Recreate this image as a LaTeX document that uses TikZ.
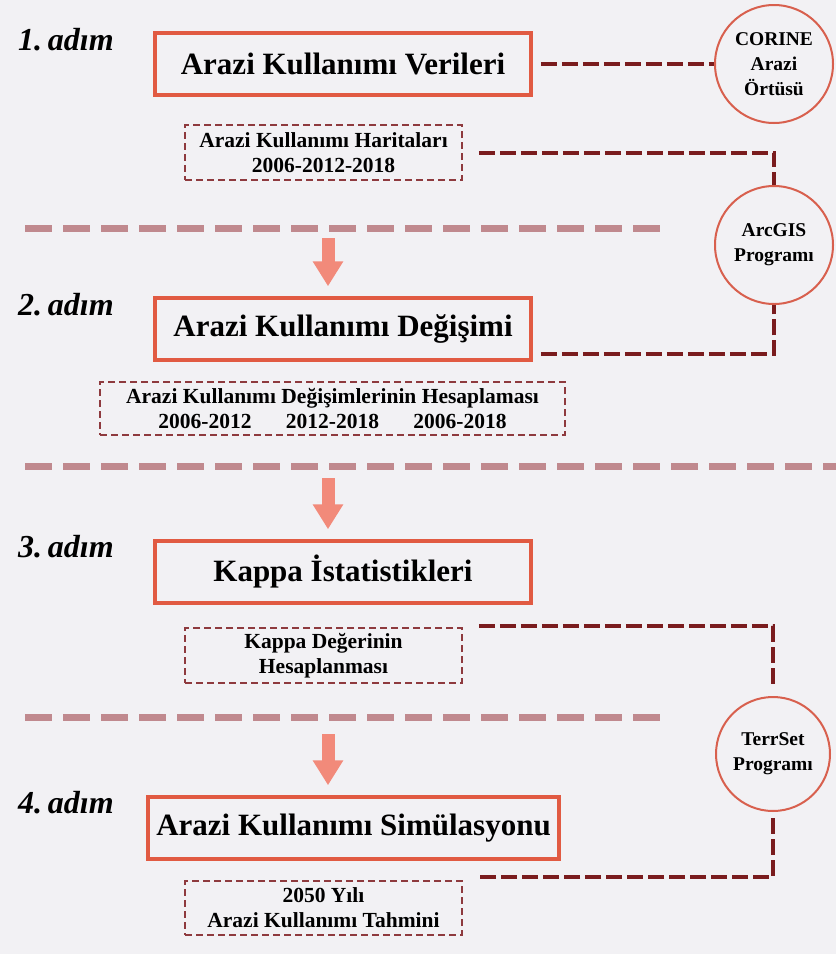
\documentclass[tikz,border=0pt]{standalone}
\usepackage{fontspec}
\setmainfont{Liberation Serif}
\usepackage{tikz}
\usetikzlibrary{positioning,calc,arrows.meta}
\definecolor{bgcol}{HTML}{F2F1F4}
\definecolor{boxred}{HTML}{E15A42}
\definecolor{ringred}{HTML}{D8604E}
\definecolor{linkred}{HTML}{7A1C1E}
\definecolor{subred}{HTML}{8E3A3E}
\definecolor{sepcol}{HTML}{C0898E}
\definecolor{arrowcol}{HTML}{F28A7A}
\tikzset{
  mainbox/.style={draw=boxred, line width=3.5pt, minimum width=376pt, minimum height=62pt, inner sep=0pt, font=\fontsize{31}{36}\selectfont\bfseries},
  subbox/.style={draw=subred, line width=1.8pt, dash pattern=on 7pt off 4pt, align=center, inner sep=0pt, font=\fontsize{21.5}{25}\selectfont\bfseries},
  progcircle/.style={circle, draw=ringred, line width=2pt, minimum size=118pt, align=center, inner sep=0pt, font=\fontsize{19.5}{25}\selectfont\bfseries},
  steplabel/.style={anchor=base west, inner sep=0pt, font=\fontsize{32}{36}\selectfont\bfseries\itshape},
  linkline/.style={draw=linkred, line width=4pt, dash pattern=on 16pt off 5pt},
  sepline/.style={draw=sepcol, line width=7pt, dash pattern=on 27pt off 11pt},
  steparrow/.style={draw=arrowcol, line width=13pt, -{Triangle[width=29pt,length=25pt]}},
}
\begin{document}
\begin{tikzpicture}[x=1pt,y=-1pt]
	% Background and page size
	\fill[bgcol] (0,0) rectangle (836,954);
	\useasboundingbox (0,0) rectangle (836,954);

	% Step 1
	\node[steplabel] (s1) at (18,50) {1.\hspace{0.18em}adım};
	\node[mainbox] (box1) at (343,64) {Arazi Kullanımı Verileri};
	\node[subbox, minimum width=277pt, minimum height=55pt] (maps) at (323.5,152.5)
	{Arazi Kullanımı Haritaları\\2006-2012-2018};
	\node[progcircle] (corine) at (774,64) {CORINE\\Arazi\\Örtüsü};
	\draw[linkline] ([xshift=8pt]box1.east) -- (corine.west);

	% Step 2
	\node[steplabel] (s2) at (18,315) {2.\hspace{0.18em}adım};
	\node[mainbox] (box2) at (343,329) {Arazi Kullanımı Değişimi};
	\node[subbox, minimum width=465pt, minimum height=53pt] (chg) at (332.5,408.5)
	{Arazi Kullanımı Değişimlerinin Hesaplaması\\2006-2012\hspace{1.6em}2012-2018\hspace{1.6em}2006-2018};
	\node[progcircle] (arcgis) at (774,245) {ArcGIS\\Programı};
	\draw[linkline] ([xshift=16pt]maps.east) -| (arcgis.north);
	\draw[linkline] ([xshift=8pt,yshift=-25pt]box2.east) -| (arcgis.south);

	% Step 3
	\node[steplabel] (s3) at (18,557) {3.\hspace{0.18em}adım};
	\node[mainbox] (box3) at (343,572) {Kappa İstatistikleri};
	\node[subbox, minimum width=277pt, minimum height=55pt] (kdeg) at (323.5,655.5)
	{Kappa Değerinin\\Hesaplanması};

	% Step 4
	\node[steplabel] (s4) at (18,813) {4.\hspace{0.18em}adım};
	\node[mainbox, minimum width=411pt] (box4) at (353.5,828) {Arazi Kullanımı Simülasyonu};
	\node[subbox, minimum width=277pt, minimum height=54pt] (pred) at (323.5,908)
	{2050 Yılı\\Arazi Kullanımı Tahmini};
	\node[progcircle, minimum size=114pt] (terrset) at (773,754) {TerrSet\\Programı};
	\draw[linkline] ([xshift=16pt,yshift=1pt]kdeg.north east) -| ([yshift=10pt]terrset.north);
	\draw[linkline] ([yshift=-6pt]terrset.south) |- ([xshift=16pt,yshift=3pt]pred.north east);

	% Separators between steps
	\draw[sepline] (25,228) -- (665,228);
	\draw[sepline] (25,466) -- (836,466);
	\draw[sepline] (25,717) -- (665,717);

	% Arrows to next step
	\coordinate (a1) at (328,238);
	\coordinate (a2) at (328,478);
	\coordinate (a3) at (328,734);
	\draw[steparrow, shorten >=10pt] (a1) -- (a1 |- box2.north);
	\draw[steparrow, shorten >=10pt] (a2) -- (a2 |- box3.north);
	\draw[steparrow, shorten >=10pt] (a3) -- (a3 |- box4.north);
\end{tikzpicture}
\end{document}
